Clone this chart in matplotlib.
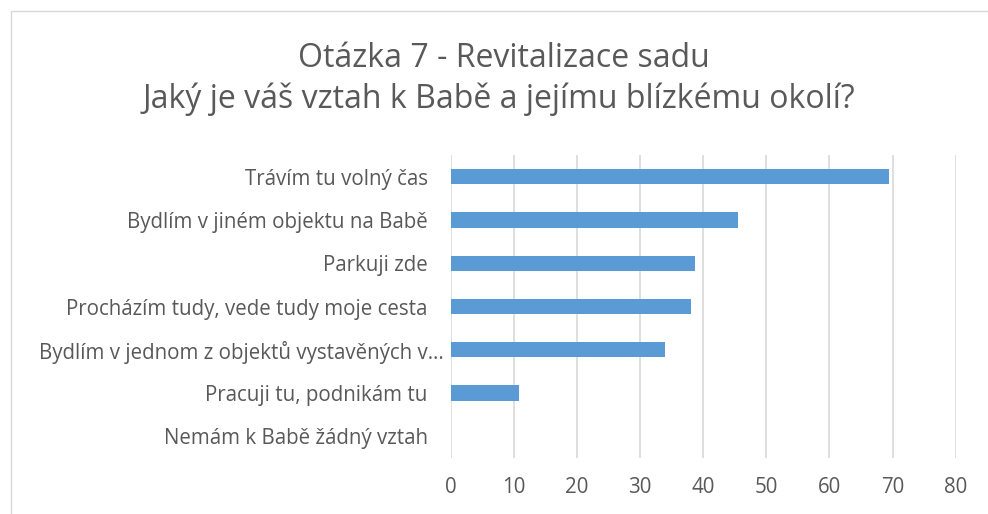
import matplotlib.pyplot as plt
from matplotlib.patches import Rectangle
from matplotlib.transforms import ScaledTranslation

categories = [
    "Trávím tu volný čas",
    "Bydlím v jiném objektu na Babě",
    "Parkuji zde",
    "Procházím tudy, vede tudy moje cesta",
    "Bydlím v jednom z objektů vystavěných v…",
    "Pracuji tu, podnikám tu",
    "Nemám k Babě žádný vztah",
]
values = [69.4, 45.6, 38.7, 38.1, 34.0, 10.85, 0]
xticks = [0, 10, 20, 30, 40, 50, 60, 70, 80]

plt.rcParams['font.family'] = ['Open Sans', 'DejaVu Sans']
grey = '#595959'

fig = plt.figure(figsize=(9.88, 5.14), dpi=100)
ax = fig.add_axes([450.5 / 988, (514 - 458) / 514, (955.7 - 450.5) / 988, (458 - 155) / 514])

ypos = list(range(len(categories)))
ax.barh(ypos, values, height=0.35, color='#5b9bd5', zorder=3)
ax.set_ylim(len(categories) - 0.5, -0.5)
ax.set_xlim(0, 80)
ax.set_yticks(ypos)
ax.set_yticklabels(categories, fontsize=14.8, color=grey)
ax.set_xticks(xticks)
ax.set_xticklabels([str(t) for t in xticks], fontsize=14.8, color=grey)
ax.tick_params(axis='both', length=0)
ax.tick_params(axis='y', pad=16.5)
ax.tick_params(axis='x', pad=14)
ax.grid(axis='x', color='#d9d9d9', linewidth=1.2, zorder=0)
for s in ax.spines.values():
    s.set_visible(False)

# truncated label sits a bit closer to the axis, like in the original
lbl = ax.get_yticklabels()[4]
lbl.set_transform(lbl.get_transform() + ScaledTranslation(16 / 100, 0, fig.dpi_scale_trans))

fig.text(504 / 988, 1 - 67 / 514, "Otázka 7 - Revitalizace sadu", ha='center', va='baseline',
         fontsize=23, color=grey)
fig.text(499 / 988, 1 - 108 / 514, "Jaký je váš vztah k Babě a jejímu blízkému okolí?", ha='center',
         va='baseline', fontsize=23, color=grey)

fig.patches.append(Rectangle((11 / 988, -0.05), 1.1, 1 - 11 / 514 + 0.05, transform=fig.transFigure,
                             fill=False, edgecolor='#d9d9d9', linewidth=1))

fig.savefig('out.png', dpi=100)
